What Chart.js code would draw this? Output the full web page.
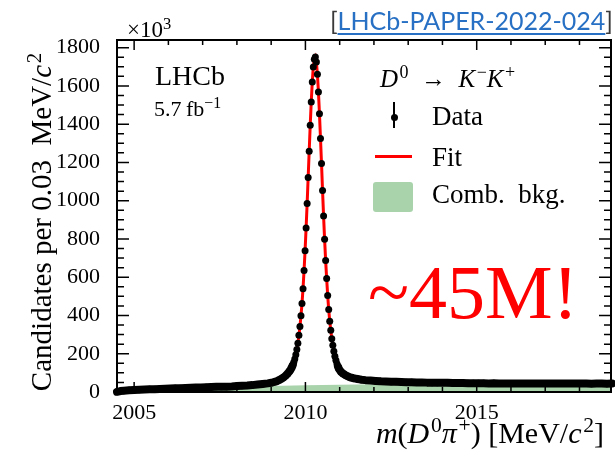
<!DOCTYPE html>
<html>
<head>
<meta charset="utf-8">
<script src="https://cdn.jsdelivr.net/npm/chart.js@4.4.1/dist/chart.umd.min.js"></script>
<style>
  html, body { margin: 0; padding: 0; background: #fff; }
  #wrap { position: relative; width: 615px; height: 458px; overflow: hidden;
          font-family: "Liberation Serif", "DejaVu Serif", serif; color: #000; }
  #wrap canvas { position: absolute; left: 0; top: 0; }
  .txt { position: absolute; white-space: nowrap; line-height: 1; }
  .txt sup { font-size: 0.72em; vertical-align: 0; position: relative; top: -0.48em; line-height: 0; }
  .txt i + sup { margin-left: 0.08em; }
  #ref { position: absolute; right: 2px; top: 8px; font-family: Lato, "Open Sans", sans-serif;
         font-size: 25px; line-height: 1; color: #3a3a3a; white-space: nowrap; }
  #ref .lnk { color: #2770c4; text-decoration: underline; text-decoration-thickness: 2px; text-underline-offset: 3px; }
  #exp { left: 127px; top: 18px; font-size: 23px; }
  #lhcb { left: 155px; top: 61.5px; font-size: 28px; }
  #lumi { left: 154px; top: 98px; font-size: 22px; }
  #decay { left: 380px; top: 66px; font-size: 25px; }
  #lgData { left: 432px; top: 103px; font-size: 27px; }
  #lgFit { left: 432px; top: 144px; font-size: 27px; }
  #lgBkg { left: 432px; top: 181.4px; font-size: 27px; }
  #big { left: 368px; top: 254px; font-size: 76px; color: #ff0000; }
  #xtitle { right: 11px; top: 417.5px; font-size: 30px; }
  #ytitle { left: 27px; top: 422px; width: 400px; text-align: center; font-size: 29px;
            transform-origin: 0 0; transform: rotate(-90deg); }
  .mk { position: absolute; }
  #mkBar { left: 393px; top: 101.7px; width: 2px; height: 26.6px; background: #000; }
  #mkDot { left: 390.5px; top: 113.8px; width: 7px; height: 7px; border-radius: 50%; background: #000; }
  #mkFit { left: 375px; top: 155.2px; width: 37px; height: 3px; background: #ff0000; }
  #mkBkg { left: 373.3px; top: 181.7px; width: 40px; height: 30px; border-radius: 3px; background: #a9d3ab; }
</style>
</head>
<body>
<div id="wrap">
  <canvas id="chart" width="615" height="458"></canvas>
  <div id="ref">[<span class="lnk">LHCb-PAPER-2022-024</span>]</div>
  <div class="txt" id="exp">×10<sup>3</sup></div>
  <div class="txt" id="lhcb">LHCb</div>
  <div class="txt" id="lumi">5.7&thinsp;fb<sup>−1</sup></div>
  <div class="txt" id="decay"><i>D</i><sup>0</sup>&ensp;→&ensp;<i>K</i><sup>−</sup><i>K</i><sup>+</sup></div>
  <div class="mk" id="mkBar"></div>
  <div class="mk" id="mkDot"></div>
  <div class="txt" id="lgData">Data</div>
  <div class="mk" id="mkFit"></div>
  <div class="txt" id="lgFit">Fit</div>
  <div class="mk" id="mkBkg"></div>
  <div class="txt" id="lgBkg">Comb.&nbsp; bkg.</div>
  <div class="txt" id="big">~45M!</div>
  <div class="txt" id="ytitle">Candidates per 0.03&nbsp; MeV/<i>c</i><sup>2</sup></div>
  <div class="txt" id="xtitle"><i>m</i>(<i>D</i><sup>0</sup><i>π</i><sup>+</sup>)&nbsp;[MeV/<i>c</i><sup>2</sup>]</div>
</div>
<script>
// m(D0 pi+) bin centres [MeV/c^2] and candidates per bin [x10^3]
const massBins = [
    2004.50, 2004.60, 2004.70, 2004.85, 2005.00, 2005.15, 2005.30, 2005.45, 2005.60, 2005.75,
    2005.90, 2006.05, 2006.20, 2006.35, 2006.50, 2006.65, 2006.80, 2006.95, 2007.10, 2007.25,
    2007.40, 2007.55, 2007.70, 2007.85, 2008.00, 2008.15, 2008.30, 2008.45, 2008.60, 2008.75,
    2008.90, 2009.00, 2009.06, 2009.12, 2009.18, 2009.24, 2009.30, 2009.36, 2009.42, 2009.48,
    2009.54, 2009.57, 2009.60, 2009.63, 2009.66, 2009.69, 2009.72, 2009.75, 2009.78, 2009.81,
    2009.84, 2009.87, 2009.90, 2009.93, 2009.96, 2009.99, 2010.02, 2010.05, 2010.08, 2010.11,
    2010.14, 2010.17, 2010.20, 2010.23, 2010.26, 2010.29, 2010.32, 2010.35, 2010.38, 2010.41,
    2010.44, 2010.47, 2010.50, 2010.53, 2010.56, 2010.59, 2010.62, 2010.65, 2010.68, 2010.71,
    2010.74, 2010.77, 2010.80, 2010.83, 2010.86, 2010.89, 2010.92, 2010.95, 2010.98, 2011.04,
    2011.10, 2011.16, 2011.22, 2011.28, 2011.34, 2011.40, 2011.46, 2011.52, 2011.58, 2011.64,
    2011.75, 2011.90, 2012.05, 2012.20, 2012.35, 2012.50, 2012.65, 2012.80, 2012.95, 2013.10,
    2013.25, 2013.40, 2013.55, 2013.70, 2013.85, 2014.00, 2014.15, 2014.30, 2014.45, 2014.60,
    2014.75, 2014.90, 2015.05, 2015.20, 2015.35, 2015.50, 2015.65, 2015.80, 2015.95, 2016.10,
    2016.25, 2016.40, 2016.55, 2016.70, 2016.85, 2017.00, 2017.15, 2017.30, 2017.45, 2017.60,
    2017.75, 2017.90, 2018.05, 2018.20, 2018.35, 2018.50, 2018.65, 2018.80, 2018.95
];
const candidates = [
    1, 5, 7, 9, 11, 12, 13, 14, 15, 16,
    17, 18, 19, 20, 21, 22, 23, 24, 25, 26,
    27, 27, 28, 29, 31, 33, 34, 36, 39, 42,
    45, 48, 51, 54, 58, 63, 69, 76, 85, 96,
    110, 118, 128, 140, 155, 173, 195, 222, 255, 296,
    342, 398, 462, 540, 635, 739, 857, 985, 1121, 1258,
    1394, 1516, 1620, 1699, 1740, 1751, 1725, 1661, 1568, 1455,
    1325, 1194, 1053, 920, 798, 688, 593, 505, 431, 370,
    323, 279, 244, 213, 187, 166, 148, 133, 120, 105,
    96, 89, 83, 79, 75, 72, 70, 68, 66, 64,
    62, 60, 58, 56, 55, 54, 53, 52, 51, 51,
    50, 50, 49, 49, 48, 48, 48, 47, 47, 47,
    46, 46, 46, 46, 45, 46, 45, 45, 45, 45,
    45, 44, 45, 45, 44, 45, 44, 44, 45, 44,
    44, 44, 44, 44, 43, 44, 44, 43, 44
];

// combinatorial background shape
const bkgMass = [2004.42, 2004.50, 2004.70, 2005.00, 2005.50, 2006.00, 2007.00, 2008.00, 2009.00, 2010.00,
                 2011.00, 2012.00, 2013.00, 2014.00, 2015.00, 2016.00, 2017.00, 2018.00, 2019.00];
const bkgValues = [0, 4, 8, 11, 15, 18, 23, 28, 32, 35,
                   38, 40, 41, 42, 43, 44, 44, 45, 45];

const xTickLabels = [2005, 2010, 2015];
const yTickLabels = [0, 200, 400, 600, 800, 1000, 1200, 1400, 1600, 1800];

const serif = '"Liberation Serif", "DejaVu Serif", serif';

// frame with inward ticks on all four sides
const frameTicks = {
    id: 'frameTicks',
    afterDraw(chart) {
        const { ctx, chartArea: a, scales: { x, y } } = chart;
        ctx.save();
        ctx.strokeStyle = '#000';
        ctx.lineWidth = 1.5;
        ctx.beginPath();
        for (let m = Math.ceil(x.min); m <= x.max; m++) {
            const px = x.getPixelForValue(m);
            const len = xTickLabels.includes(m) ? 10 : 5;
            ctx.moveTo(px, a.bottom); ctx.lineTo(px, a.bottom - len);
            ctx.moveTo(px, a.top); ctx.lineTo(px, a.top + len);
        }
        for (let v = 0; v <= y.max; v += 50) {
            const py = y.getPixelForValue(v);
            const len = yTickLabels.includes(v) ? 12 : 7;
            ctx.moveTo(a.left, py); ctx.lineTo(a.left + len, py);
            ctx.moveTo(a.right, py); ctx.lineTo(a.right - len, py);
        }
        ctx.stroke();
        ctx.lineWidth = 2;
        ctx.strokeRect(a.left, a.top, a.right - a.left, a.bottom - a.top);
        ctx.restore();
    }
};

const dataPoints = massBins.map((m, i) => ({ x: m, y: candidates[i] }));
const bkgPoints = bkgMass.map((m, i) => ({ x: m, y: bkgValues[i] }));

// in the tails the markers merge into one thick band
const tailBand = ctx => (ctx.p0.parsed.y > 140 || ctx.p1.parsed.y > 140) ? 'rgba(0,0,0,0)' : '#000';

new Chart(document.getElementById('chart'), {
    type: 'scatter',
    data: {
        datasets: [
            {
                label: 'Data',
                data: dataPoints,
                showLine: true,
                borderColor: '#000',
                borderWidth: 8,
                borderCapStyle: 'round',
                borderJoinStyle: 'round',
                segment: { borderColor: tailBand },
                pointRadius: 3.5,
                pointBackgroundColor: '#000',
                pointBorderWidth: 0,
                clip: false,
                order: 0
            },
            {
                label: 'Fit',
                data: dataPoints,
                showLine: true,
                borderColor: '#ff0000',
                borderWidth: 3,
                pointRadius: 0,
                tension: 0,
                order: 1
            },
            {
                label: 'Comb. bkg.',
                data: bkgPoints,
                showLine: true,
                fill: 'origin',
                backgroundColor: '#a9d3ab',
                borderWidth: 0,
                pointRadius: 0,
                order: 2
            }
        ]
    },
    options: {
        responsive: false,
        animation: false,
        devicePixelRatio: 1,
        layout: { padding: { left: 0, right: 3, top: 40, bottom: 0 } },
        plugins: { legend: { display: false }, tooltip: { enabled: false } },
        scales: {
            x: {
                type: 'linear',
                min: 2004.5,
                max: 2018.92,
                afterFit: scale => { scale.height = 66; },
                afterBuildTicks: scale => { scale.ticks = xTickLabels.map(v => ({ value: v })); },
                grid: { display: false, drawTicks: false },
                border: { display: false },
                ticks: {
                    autoSkip: false,
                    maxRotation: 0,
                    padding: 8,
                    color: '#000',
                    font: { family: serif, size: 22 },
                    callback: v => String(v)
                }
            },
            y: {
                type: 'linear',
                min: 0,
                max: 1840,
                afterFit: scale => { scale.width = 117; },
                afterBuildTicks: scale => { scale.ticks = yTickLabels.map(v => ({ value: v })); },
                grid: { display: false, drawTicks: false },
                border: { display: false },
                ticks: {
                    padding: 17,
                    color: '#000',
                    font: { family: serif, size: 22 },
                    callback: v => String(v)
                }
            }
        }
    },
    plugins: [frameTicks]
});
</script>
</body>
</html>
